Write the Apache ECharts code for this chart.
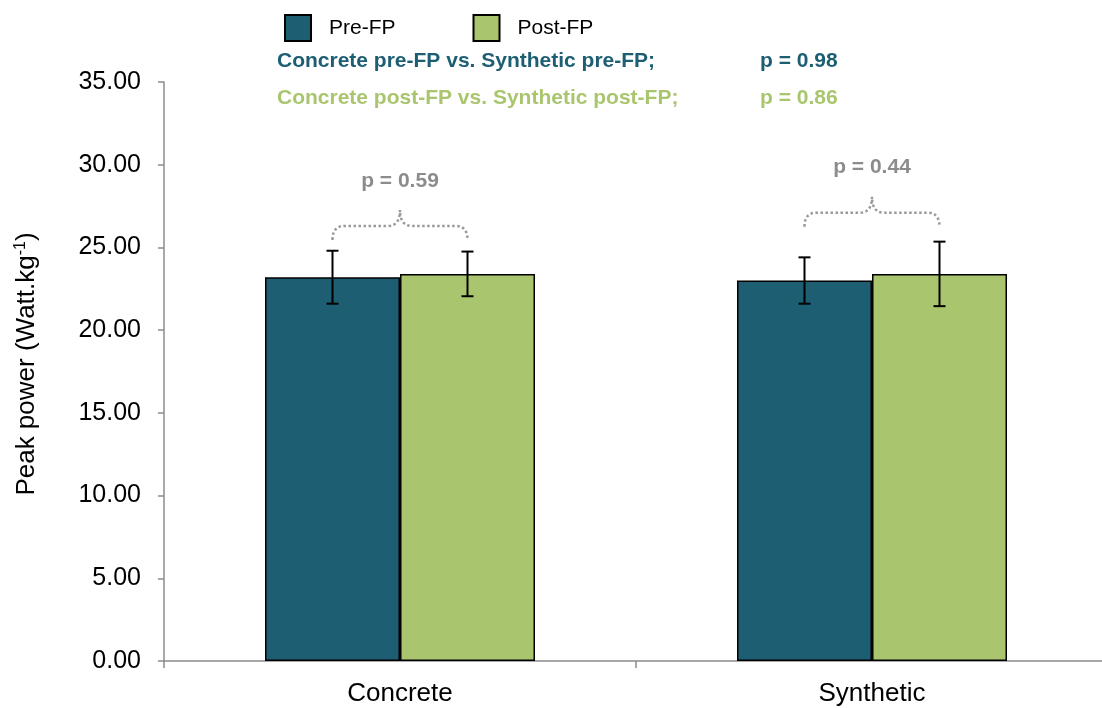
<!DOCTYPE html>
<html><head><meta charset="utf-8">
<script src="https://cdn.jsdelivr.net/npm/echarts@6/dist/echarts.min.js"></script>
<style>html,body{margin:0;padding:0;background:#fff}#c{width:1102px;height:708px}</style>
</head><body><div id="c"></div>
<script>
// ---- data ----
const categories = ['Concrete', 'Synthetic'];
const seriesNames = ['Pre-FP', 'Post-FP'];
const preMean = [23.2, 23.0];
const postMean = [23.4, 23.4];
const preSD = [1.6, 1.4];
const postSD = [1.35, 1.95];
const bracketLevel = [26.3, 27.1];
const bracketP = ['p = 0.59', 'p = 0.44'];
const compareLines = ['Concrete pre-FP vs. Synthetic pre-FP;', 'Concrete post-FP vs. Synthetic post-FP;'];
const compareP = ['p = 0.98', 'p = 0.86'];
const yMin = 0, yMax = 35, yInterval = 5;

// ---- style ----
const FONT = "'Liberation Sans', Arial, sans-serif";
const C_PRE = '#1d5e73';
const C_POST = '#a9c66f';
const AXIS = '#8c8c8c';
const BAR_W = 135;

function errRender(offsetSign) {
  return function (params, api) {
    const i = api.value(0), m = api.value(1), s = api.value(2);
    const c = api.coord([i, m]);
    const x = c[0] + offsetSign * BAR_W / 2;
    const yT = api.coord([i, m + s])[1];
    const yB = api.coord([i, m - s])[1];
    const st = { stroke: '#000', lineWidth: 2 };
    return { type: 'group', children: [
      { type: 'line', shape: { x1: x, y1: yT, x2: x, y2: yB }, style: st },
      { type: 'line', shape: { x1: x - 6, y1: yT, x2: x + 6, y2: yT }, style: st },
      { type: 'line', shape: { x1: x - 6, y1: yB, x2: x + 6, y2: yB }, style: st }
    ]};
  };
}

function bracketRender(params, api) {
  const i = api.value(0), lv = api.value(1);
  const c = api.coord([i, lv]);
  const xc = c[0], yH = c[1];
  const x0 = xc - BAR_W / 2, x1 = xc + BAR_W / 2;
  const yE = yH + 14, yP = yH - 16, r = 12;
  const d = `M${x0} ${yE} Q${x0} ${yH} ${x0 + r} ${yH} L${xc - r} ${yH} Q${xc} ${yH} ${xc} ${yP} ` +
            `Q${xc} ${yH} ${xc + r} ${yH} L${x1 - r} ${yH} Q${x1} ${yH} ${x1} ${yE}`;
  return { type: 'group', children: [
    { type: 'path', shape: { pathData: d },
      style: { fill: 'none', stroke: '#9a9a9a', lineWidth: 2.5, lineDash: [2.5, 2.5], lineCap: 'butt' } },
    { type: 'text', x: xc, y: yH - 45,
      style: { text: bracketP[params.dataIndex], fill: '#8c8c8c', fontSize: 21, fontWeight: 'bold',
               fontFamily: FONT, align: 'center', verticalAlign: 'middle' } }
  ]};
}

const chart = echarts.init(document.getElementById('c'), null, { renderer: 'canvas' });
chart.setOption({
  animation: false,
  backgroundColor: '#fff',
  grid: { left: 164, width: 944, top: 82, bottom: 47, containLabel: false, outerBoundsMode: 'none' },
  legend: {
    data: seriesNames, left: 279, top: 9, itemWidth: 26, itemHeight: 26, itemGap: 77,
    icon: 'rect',
    itemStyle: { borderColor: '#000', borderWidth: 2 },
    formatter: '{t|{name}}',
    textStyle: { rich: { t: { fontSize: 21, fontFamily: FONT, color: '#000', padding: [0, 0, 0, 13] } } }
  },
  xAxis: {
    type: 'category', data: categories,
    axisLine: { lineStyle: { color: AXIS, width: 1.5 } },
    axisTick: { show: true, length: 7, lineStyle: { color: AXIS, width: 1.5 } },
    axisLabel: { fontSize: 26, color: '#000', fontFamily: FONT, margin: 20 },
    splitLine: { show: false }
  },
  yAxis: {
    type: 'value', min: yMin, max: yMax, interval: yInterval,
    axisLine: { show: true, lineStyle: { color: AXIS, width: 1.5 } },
    axisTick: { show: true, length: 6, lineStyle: { color: AXIS, width: 1.5 } },
    axisLabel: { fontSize: 25, color: '#000', fontFamily: FONT, margin: 23,
                 formatter: v => v.toFixed(2) },
    splitLine: { show: false }
  },
  graphic: [
    { type: 'text', x: 27, y: 364, rotation: Math.PI / 2,
      style: { text: '{a|Peak power (Watt.kg}{s|-1}{a|)}', align: 'center', verticalAlign: 'middle',
        rich: { a: { fontSize: 26, fontFamily: FONT, fill: '#000', color: '#000' },
                s: { fontSize: 16, fontFamily: FONT, fill: '#000', color: '#000', verticalAlign: 'top', padding: [0, 0, 12, 0] } } } },
    { type: 'text', x: 277, y: 61, style: { text: compareLines[0], fill: C_PRE, fontSize: 21, fontWeight: 'bold', fontFamily: FONT, verticalAlign: 'middle' } },
    { type: 'text', x: 760, y: 61, style: { text: compareP[0], fill: C_PRE, fontSize: 21, fontWeight: 'bold', fontFamily: FONT, verticalAlign: 'middle' } },
    { type: 'text', x: 277, y: 98, style: { text: compareLines[1], fill: C_POST, fontSize: 21, fontWeight: 'bold', fontFamily: FONT, verticalAlign: 'middle' } },
    { type: 'text', x: 760, y: 98, style: { text: compareP[1], fill: C_POST, fontSize: 21, fontWeight: 'bold', fontFamily: FONT, verticalAlign: 'middle' } }
  ],
  series: [
    { name: seriesNames[0], type: 'bar', data: preMean, barWidth: BAR_W, barGap: '0%',
      itemStyle: { color: C_PRE, borderColor: '#000', borderWidth: 1.5 } },
    { name: seriesNames[1], type: 'bar', data: postMean, barWidth: BAR_W, barGap: '0%',
      itemStyle: { color: C_POST, borderColor: '#000', borderWidth: 1.5 } },
    { type: 'custom', name: 'errPre', renderItem: errRender(-1), z: 5,
      data: categories.map((c, i) => [i, preMean[i], preSD[i]]) },
    { type: 'custom', name: 'errPost', renderItem: errRender(1), z: 5,
      data: categories.map((c, i) => [i, postMean[i], postSD[i]]) },
    { type: 'custom', name: 'brackets', renderItem: bracketRender, z: 5,
      data: categories.map((c, i) => [i, bracketLevel[i]]) }
  ]
});
</script></body></html>
